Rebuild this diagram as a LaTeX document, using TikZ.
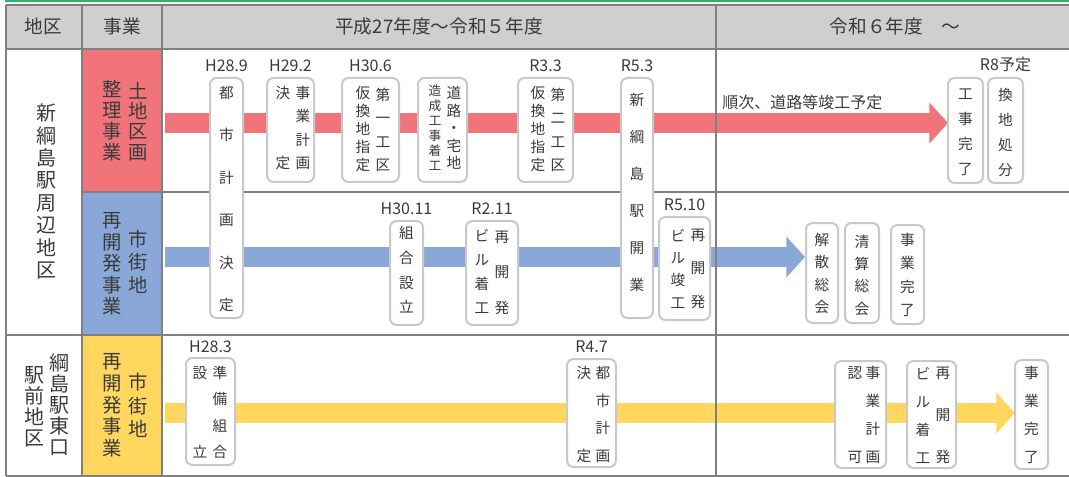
\documentclass[tikz,border=0pt]{standalone}
\usepackage{fontspec}
\setmainfont{Noto Sans CJK JP}
\usepackage{tikz}
\usetikzlibrary{positioning, fit, arrows.meta}
\definecolor{headgray}{HTML}{D0CFCE}
\definecolor{gridgray}{HTML}{808080}
\definecolor{boxgray}{HTML}{C8C8C8}
\definecolor{linegreen}{HTML}{33B06E}
\definecolor{landred}{HTML}{F0747A}
\definecolor{townblue}{HTML}{8AA8D7}
\definecolor{townyellow}{HTML}{FFD75E}
\definecolor{txt}{HTML}{3A3A3A}
\tikzstyle{gridline} = [line width=1.5pt, gridgray]
\tikzstyle{stepbox} = [draw=boxgray, line width=1.5pt, rounded corners=5pt, fill=white, inner sep=0pt]
\tikzstyle{datelbl} = [inner sep=0pt, text=txt, font=\fontsize{12pt}{12pt}\selectfont]
\tikzstyle{hdr} = [inner sep=0pt, text=txt, font=\fontsize{14pt}{14pt}\selectfont]
\tikzset{
  tate/.style={align=center, inner sep=0pt, text=txt, font=\fontsize{11pt}{#1}\selectfont},
  bigtate/.style={align=center, inner sep=0pt, text=txt, font=\fontsize{14.5pt}{#1}\selectfont},
  band/.style={line width=15pt, draw=#1, -{Triangle[length=14pt, width=30pt, fill=#1]}}
}

\begin{document}
\begin{tikzpicture}[x=0.75pt,y=-0.75pt]
\useasboundingbox (0,0) rectangle (1069,477);

\fill[headgray] (6,5) rectangle (1069,49.5);
\fill[landred] (82,49.5) rectangle (162,192);
\fill[townblue] (82,192) rectangle (162,335);
\fill[townyellow] (82,335) rectangle (162,476);
\draw[line width=1.5pt, linegreen] (5,1) -- (1069,1);

\coordinate (reds) at (165,123);
\coordinate (rede) at (948,123);
\coordinate (blues) at (165,257);
\coordinate (bluee) at (805,257);
\coordinate (yels) at (165,413);
\coordinate (yele) at (1015,413);
\draw[band=landred] (reds) -- (rede);
\draw[band=townblue] (blues) -- (bluee);
\draw[band=townyellow] (yels) -- (yele);

\draw[gridline] (6,5) -- (1069,5);
\draw[gridline] (6,49.5) -- (1069,49.5);
\draw[gridline] (82,192) -- (1069,192);
\draw[gridline] (6,335) -- (1069,335);
\draw[gridline] (6,476) -- (1069,476);
\foreach \x in {6,82,162,716}
{
 \draw[gridline] (\x,5) -- (\x,476);
}

\node[hdr] (area) at (43,26) {地区};
\node[hdr] (proj) at (122,26) {事業};
\node[hdr] (span1) at (439,26) {平成27年度～令和５年度};
\node[hdr] (span2) at (895,26) {令和６年度　～};

\node[bigtate=16.8pt, font=\fontsize{15pt}{16.8pt}\selectfont] (shin) at (46,191.5) {新\\綱\\島\\駅\\周\\辺\\地\\区};
\node[bigtate=15.75pt, font=\fontsize{15pt}{15.75pt}\selectfont] (higa) at (59,405) {綱\\島\\駅\\東\\口};
\node[bigtate=15.75pt, font=\fontsize{15pt}{15.75pt}\selectfont] (eki) at (34,406.5) {駅\\前\\地\\区};

\node[bigtate=15.25pt] (tochi) at (138,121.5) {土\\地\\区\\画};
\node[bigtate=15.75pt] (seiri) at (112,120.5) {整\\理\\事\\業};
\node[bigtate=17.25pt] (shigai1) at (138,262) {市\\街\\地};
\node[bigtate=16.1pt] (saikai1) at (112,264) {再\\開\\発\\事\\業};
\node[bigtate=17.6pt] (shigai2) at (138,405.5) {市\\街\\地};
\node[bigtate=16.3pt] (saikai2) at (112,405.5) {再\\開\\発\\事\\業};

\node[stepbox, fit={(210,78) (243,318)}] (r1a) {};
\node[stepbox, fit={(267,78) (314,182)}] (r1b) {};
\node[stepbox, fit={(342,78) (399,182)}] (r1c) {};
\node[stepbox, fit={(418,78) (467,182)}] (r1d) {};
\node[stepbox, fit={(518,78) (573,182)}] (r1e) {};
\node[stepbox, fit={(621,78) (653,318)}] (r1f) {};
\node[stepbox, fit={(948,78) (983,183)}] (r1g) {};
\node[stepbox, fit={(988,78) (1023,183)}] (r1h) {};

\node[datelbl, above=4pt of r1a] (d1a) {H28.9};
\node[datelbl, above=4pt of r1b] (d1b) {H29.2};
\node[datelbl, above=4pt of r1c] (d1c) {H30.6};
\node[datelbl, above=4pt of r1e] (d1e) {R3.3};
\node[datelbl, above=4pt of r1f] (d1f) {R5.3};
\node[datelbl, above=4pt of r1h] (d1h) {R8予定};

\node[tate=31.8pt] (t1a) at (226.5,199) {都\\市\\計\\画\\決\\定};
\node[tate=17.5pt] (t1b) at (303,128) {事\\業\\計\\画};
\node[tate=17.5pt] (t1bb) at (283,128) {決\\ \\ \\定};
\node[tate=17.5pt] (t1c) at (383,130) {第\\一\\工\\区};
\node[tate=13.5pt] (t1cc) at (363,129) {仮\\換\\地\\指\\定};
\node[tate=13.1pt] (t1d) at (454,128) {道\\路\\・\\宅\\地};
\node[tate=11.25pt, font=\fontsize{9.5pt}{11.25pt}\selectfont] (t1dd) at (435,127.5) {造\\成\\工\\事\\着\\工};
\node[tate=17.5pt] (t1e) at (558,130) {第\\二\\工\\区};
\node[tate=13.5pt] (t1ee) at (538,129) {仮\\換\\地\\指\\定};
\node[tate=27.75pt] (t1f) at (637,192.5) {新\\綱\\島\\駅\\開\\業};
\node[tate=18.75pt] (t1g) at (965.5,132.5) {工\\事\\完\\了};
\node[tate=18.75pt] (t1h) at (1005.5,132.5) {換\\地\\処\\分};
\node[anchor=west, inner sep=0pt, text=txt, font=\fontsize{12pt}{12pt}\selectfont] (junji) at (722,102) {順次、道路等竣工予定};

\node[stepbox, fit={(390,221) (423,325)}] (r2a) {};
\node[stepbox, fit={(466,221) (518,325)}] (r2b) {};
\node[stepbox, fit={(659,217) (710,320)}] (r2c) {};
\node[stepbox, fit={(806,223) (838,323)}] (r2d) {};
\node[stepbox, fit={(845,223) (879,323)}] (r2e) {};
\node[stepbox, fit={(891,225) (924,324)}] (r2f) {};

\node[datelbl, above=4pt of r2a] (d2a) {H30.11};
\node[datelbl, above=4pt of r2b] (d2b) {R2.11};
\node[datelbl, above=4pt of r2c] (d2c) {R5.10};

\node[tate=18.5pt] (t2a) at (406.5,270) {組\\合\\設\\立};
\node[tate=26.6pt] (t2b) at (502,272.5) {再\\開\\発};
\node[tate=18pt] (t2bb) at (482,271) {ビ\\ル\\着\\工};
\node[tate=25.1pt] (t2c) at (698,268.5) {再\\開\\発};
\node[tate=16.75pt] (t2cc) at (678,268.5) {ビ\\ル\\竣\\工};
\node[tate=16.75pt] (t2d) at (822,273.5) {解\\散\\総\\会};
\node[tate=16.75pt] (t2e) at (862,275) {清\\算\\総\\会};
\node[tate=17.5pt] (t2f) at (907.5,275) {事\\業\\完\\了};

\node[stepbox, fit={(186,358) (235,465)}] (r3a) {};
\node[stepbox, fit={(567,359) (616,467)}] (r3b) {};
\node[stepbox, fit={(835,361) (886,468)}] (r3c) {};
\node[stepbox, fit={(907,361) (956,468)}] (r3d) {};
\node[stepbox, fit={(1015,360) (1048,469)}] (r3e) {};

\node[datelbl, above=3pt of r3a] (d3a) {H28.3};
\node[datelbl, above=4pt of r3b] (d3b) {R4.7};

\node[tate=19.75pt] (t3a) at (220,412.5) {準\\備\\組\\合};
\node[tate=19.75pt] (t3aa) at (200,412.5) {設\\ \\ \\立};
\node[tate=20.75pt] (t3b) at (603,414.5) {都\\市\\計\\画};
\node[tate=20.75pt] (t3bb) at (584,414.5) {決\\ \\ \\定};
\node[tate=21pt] (t3c) at (873,415) {事\\業\\計\\画};
\node[tate=21pt] (t3cc) at (855,415) {認\\ \\ \\可};
\node[tate=31.5pt] (t3d) at (943,415) {再\\開\\発};
\node[tate=21pt] (t3dd) at (923,415) {ビ\\ル\\着\\工};
\node[tate=21pt] (t3e) at (1031.5,415) {事\\業\\完\\了};
\end{tikzpicture}
\end{document}
